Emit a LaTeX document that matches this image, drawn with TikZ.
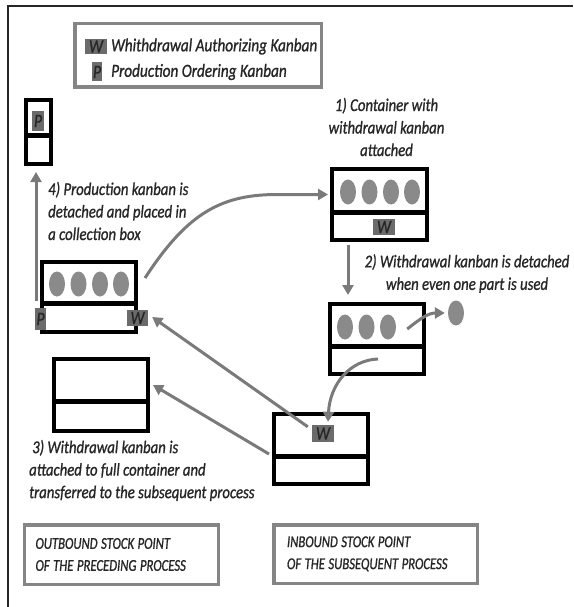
\documentclass[tikz,border=0pt]{standalone}
\usepackage{fontspec}
\setmainfont{Carlito}[FakeStretch=0.82, FakeBold=1]
\newfontfamily\capsfont{Carlito}[FakeStretch=0.77, FakeBold=1]
% narrow word space for the stock point captions
\newcommand\wsp{\hspace{3.5pt}}
\usetikzlibrary{arrows.meta,shapes.geometric}
\definecolor{partgray}{HTML}{8A8A8A}
\definecolor{taggray}{HTML}{6B6B6B}
\definecolor{flowgray}{HTML}{7A7A7A}
\definecolor{boxgray}{HTML}{858585}
\definecolor{ink}{HTML}{262626}

\begin{document}
\begin{tikzpicture}[x=1pt,y=-1pt,
  every node/.style={font=\fontsize{18}{22.5}\selectfont\itshape, text=ink},
  container/.style={draw=black, line width=4pt, fill=white, minimum width=94pt,
    minimum height=70pt, inner sep=0pt},
  divider/.style={draw=black, line width=5pt},
  part/.style={ellipse, fill=partgray, minimum width=16pt, minimum height=25pt, inner sep=0pt},
  tag/.style={fill=taggray, inner sep=0pt, text=ink, font=\fontsize{19}{19}\selectfont\itshape},
  flow/.style={draw=flowgray, line width=3pt, -{Triangle[length=10pt,width=11pt]}},
  framebox/.style={draw=boxgray, line width=3.5pt, fill=white, inner sep=0pt},
  steptext/.style={inner sep=0pt},
  captiontext/.style={font=\capsfont\fontsize{16.5}{22}\selectfont\itshape}
]
\useasboundingbox (0,0) rectangle (573,607);
\fill[white] (0,0) rectangle (573,607);

% page frame (top and left edges)
\draw[line width=2pt, ink] (573,6) -- (8,6) -- (8,607);

% legend
\node[framebox, minimum width=246.5pt, minimum height=63.5pt] (legend) at (198,55.5) {};
\node[tag, minimum width=22pt, minimum height=15pt] (legW) at (96,46.5) {W};
\node[tag, minimum width=10pt, minimum height=19pt] (legP) at (97,72) {P};
\node[steptext, anchor=west, font=\fontsize{18.6}{22}\selectfont\itshape] (legWtxt) at (111,46.5) {Whithdrawal Authorizing Kanban};
\node[steptext, anchor=west, font=\fontsize{18.6}{22}\selectfont\itshape] (legPtxt) at (111,72) {Production Ordering Kanban};

% collection box for production kanbans
\node[draw=black, line width=4pt, fill=white, minimum width=25pt, minimum height=64pt,
  inner sep=0pt] (collect) at (38.5,132) {};
\draw[divider] ([yshift=-3pt]collect.west) -- ([yshift=-3pt]collect.east);
\node[tag, minimum width=12pt, minimum height=20pt] (collectP) at (38,121) {P};

% outbound stock point: full container
\node[container] (full) at (89,297) {};
\draw[divider] ([yshift=-6pt]full.west) -- ([yshift=-6pt]full.east);
\node[part] (f1) at (57,284) {};
\node[part] (f2) at (78.5,284) {};
\node[part] (f3) at (100,284) {};
\node[part] (f4) at (121,284) {};
\node[tag, minimum width=11pt, minimum height=22pt] (fullP) at (40.5,319) {P};
\node[tag, minimum width=21pt, minimum height=16pt] (fullW) at (137.5,318) {W};

% outbound stock point: empty container
\node[container, minimum height=72pt] (empty) at (101,395) {};
\draw[divider] ([yshift=-6pt]empty.west) -- ([yshift=-6pt]empty.east);

% inbound stock point: container with withdrawal kanban
\node[container, minimum width=95pt, minimum height=71pt] (inA) at (379.5,204.5) {};
\draw[divider] ([yshift=-7.5pt]inA.west) -- ([yshift=-7.5pt]inA.east);
\node[part] (i1) at (348,192) {};
\node[part] (i2) at (369.5,192) {};
\node[part] (i3) at (391,192) {};
\node[part] (i4) at (412,192) {};
\node[tag, minimum width=22pt, minimum height=16pt] (inAW) at (384,227) {W};

% inbound stock point: container in use
\node[container] (inB) at (377,339) {};
\draw[divider] ([yshift=-7pt]inB.west) -- ([yshift=-7pt]inB.east);
\node[part] (u1) at (345,327) {};
\node[part] (u2) at (366.5,327) {};
\node[part] (u3) at (388,327) {};
\node[part] (used) at (456,313) {};

% inbound stock point: emptied container
\node[container] (inC) at (321,449) {};
\draw[divider] ([yshift=-7pt]inC.west) -- ([yshift=-7pt]inC.east);
\node[tag, minimum width=22pt, minimum height=17pt] (inCW) at (323,433.5) {W};

% flows
\draw[flow] ([xshift=-4.5pt,yshift=7pt]fullP.north) -- ([xshift=-2.5pt,yshift=-6pt]collect.south);
\draw[flow] ([xshift=7pt,yshift=19pt]full.east) .. controls (188,212) and (222,194)
  .. (280,194.5) -- ([xshift=-2pt,yshift=10pt]inA.west);
\draw[flow] ([xshift=-31.5pt,yshift=-3pt]inA.south) -- ([xshift=-29pt,yshift=7pt]inB.north);
\draw[flow] ([xshift=11pt,yshift=-2pt]u3.east) .. controls (420,319) and (428,313)
  .. ([xshift=-3pt]used.west);
\draw[flow] ([xshift=1pt,yshift=17pt]inB.south) .. controls (350,360) and (330,384)
  .. ([xshift=5pt,yshift=3pt]inCW.north);
\draw[flow] ([xshift=-4pt,yshift=-2pt]inCW.north west) -- ([xshift=4pt,yshift=1pt]fullW.east);
\draw[flow] ([xshift=-3pt,yshift=-5pt]inC.west) -- ([xshift=3pt,yshift=10pt]empty.east);

% step descriptions
\node[steptext, align=center] (step1) at (386.5,127) {1) Container with\\withdrawal kanban\\attached};
\node[steptext, align=center] (step2) at (467,273.5) {2) Withdrawal kanban is detached\\when even one part is used};
\node[steptext, align=left, anchor=west] (step3) at (29,470.5)
  {\,3) Withdrawal kanban is\\attached to full container and\\transferred to the subsequent process};
\node[steptext, align=left, anchor=west] (step4) at (48,211)
  {4) Production kanban is\\detached and placed in\\a collection box};

% stock point captions
\node[framebox, captiontext, minimum width=194pt, minimum height=59.5pt, text width=172pt,
  align=left] (outbound) at (121.5,554.5)
  {OUTBOUND\wsp STOCK\wsp POINT\\OF\wsp THE\wsp PRECEDING\wsp PROCESS};
\node[framebox, captiontext, minimum width=203.5pt, minimum height=58.5pt, text width=177pt,
  align=left] (inbound) at (375.5,554)
  {\raisebox{2.5pt}{INBOUND\wsp STOCK\wsp POINT}\\\raisebox{2.5pt}{OF\wsp THE\wsp SUBSEQUENT\wsp PROCESS}};
\end{tikzpicture}
\end{document}
